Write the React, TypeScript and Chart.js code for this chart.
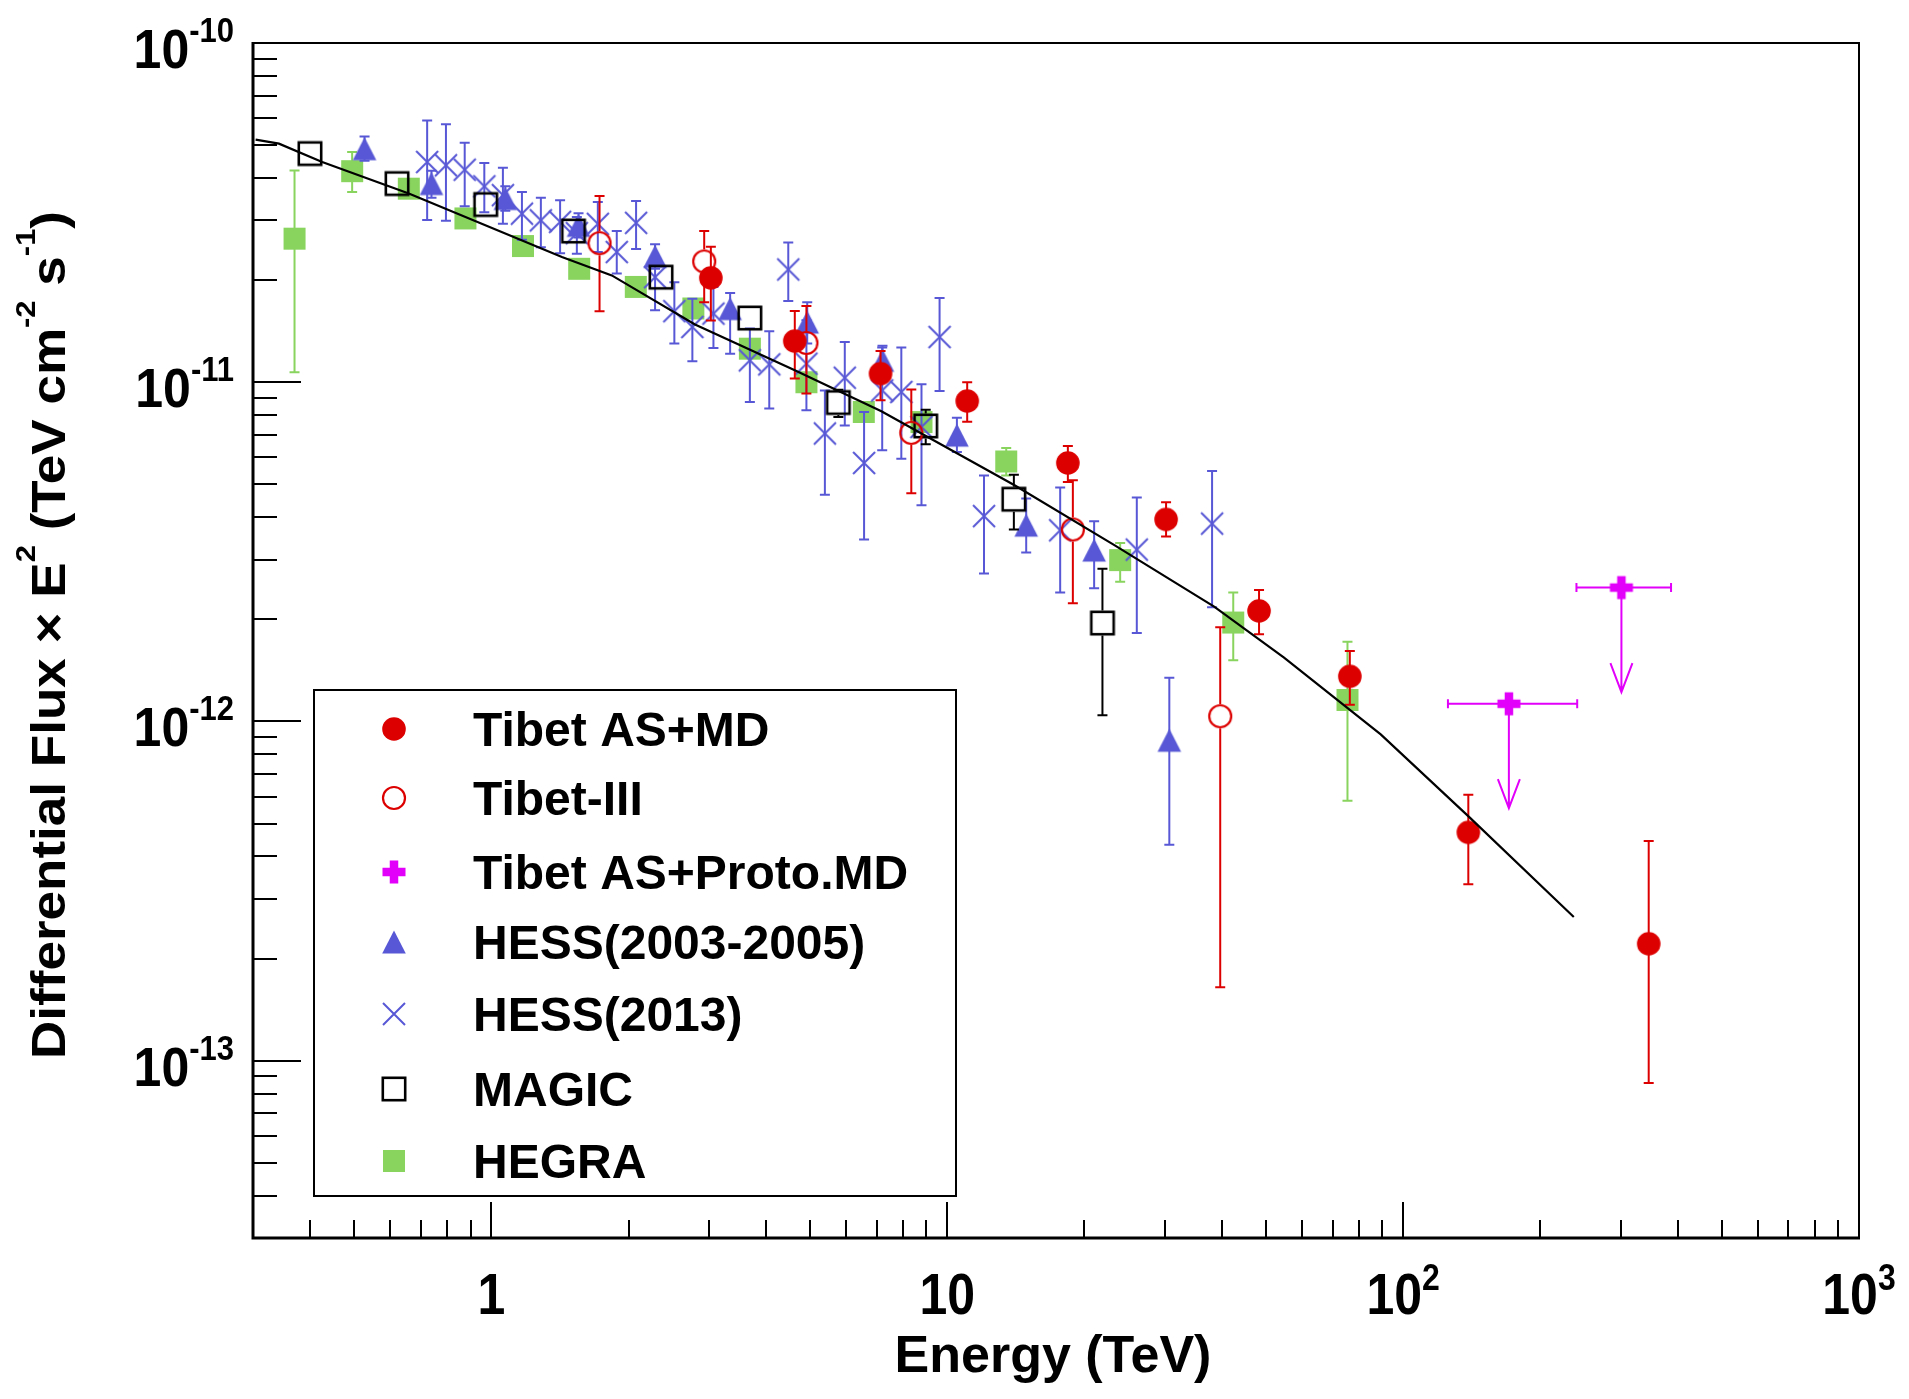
import React, { useEffect, useRef } from 'react';
import { Chart, registerables } from 'chart.js';

Chart.register(...registerables);

const W = 1909;
const H = 1399;
const FONT = '"Liberation Sans", Arial, Helvetica, sans-serif';

const RED = 'rgb(221,0,0)';
const BLUE = 'rgb(88,88,214)';
const GREEN = 'rgb(137,212,95)';
const MAGENTA = 'rgb(226,0,250)';

// ---------------- data ----------------
// Tibet AS+MD (filled red circles)
const tibetMdEnergy = [3.03, 4.63, 7.14, 11.06, 18.39, 30.2, 48.3, 76.4, 139, 345.7];
const tibetMdFlux = [2.03e-11, 1.322e-11, 1.06e-11, 8.8e-12, 5.78e-12, 3.94e-12, 2.117e-12, 1.358e-12, 4.71e-13, 2.21e-13];
const tibetMdLow = [1.52e-11, 1.025e-11, 8.85e-12, 7.65e-12, 5.08e-12, 3.51e-12, 1.807e-12, 1.12e-12, 3.31e-13, 8.59e-14];
const tibetMdHigh = [2.51e-11, 1.622e-11, 1.236e-11, 9.99e-12, 6.49e-12, 4.43e-12, 2.44e-12, 1.613e-12, 6.08e-13, 4.44e-13];

// Tibet-III (open red circles)
const tibet3Energy = [1.727, 2.93, 4.91, 8.34, 18.86, 39.7];
const tibet3Flux = [2.57e-11, 2.27e-11, 1.305e-11, 7.09e-12, 3.68e-12, 1.036e-12];
const tibet3Low = [1.62e-11, 1.72e-11, 9.26e-12, 4.71e-12, 2.23e-12, 1.646e-13];
const tibet3High = [3.54e-11, 2.79e-11, 1.677e-11, 9.51e-12, 5.14e-12, 1.895e-12];

// Tibet AS+Proto.MD (magenta, upper limits)
const protoMdEnergy = [170.6, 301.2];
const protoMdFlux = [1.127e-12, 2.48e-12];
const protoMdEnergyLow = [125.4, 240.0];
const protoMdEnergyHigh = [240.9, 387.0];
const protoMdArrowTo = [5.55e-13, 1.22e-12];

// HESS (2003-2005) (filled blue triangles)
const hess03Energy = [0.527, 0.739, 1.073, 1.553, 2.286, 3.34, 4.93, 7.21, 10.5, 14.9, 21.0, 30.7];
const hess03Flux = [4.88e-11, 3.85e-11, 3.48e-11, 2.9e-11, 2.35e-11, 1.648e-11, 1.504e-11, 1.16e-11, 6.98e-12, 3.79e-12, 3.2e-12, 8.8e-13];
const hess03Low = [4.5e-11, 3.5e-11, 3.2e-11, 2.67e-11, 2.16e-11, 1.214e-11, 1.3e-11, 1.05e-11, 6.23e-12, 3.15e-12, 2.47e-12, 4.33e-13];
const hess03High = [5.3e-11, 4.2e-11, 3.78e-11, 3.15e-11, 2.55e-11, 1.832e-11, 1.72e-11, 1.28e-11, 7.86e-12, 4.54e-12, 3.89e-12, 1.345e-12];

// HESS (2013) (blue x)
const hess13Energy = [0.723, 0.795, 0.874, 0.965, 1.06, 1.167, 1.284, 1.415, 1.54, 1.712, 1.884, 2.077, 2.286, 2.52, 2.76, 3.07, 3.69, 4.07, 4.48, 4.91, 5.39, 5.96, 6.57, 7.2, 7.93, 8.78, 9.62, 12.04, 17.69, 26.05, 38.1];
const hess13Flux = [4.46e-11, 4.36e-11, 4.23e-11, 3.78e-11, 3.56e-11, 3.14e-11, 3.0e-11, 2.97e-11, 2.75e-11, 2.93e-11, 2.42e-11, 2.95e-11, 2.04e-11, 1.62e-11, 1.455e-11, 1.593e-11, 1.16e-11, 1.129e-11, 2.15e-11, 1.134e-11, 7.06e-12, 1.031e-11, 5.78e-12, 9.46e-12, 9.36e-12, 7.38e-12, 1.359e-11, 4.03e-12, 3.66e-12, 3.21e-12, 3.83e-12];
const hess13Low = [3.01e-11, 2.99e-11, 3.3e-11, 3.17e-11, 2.93e-11, 2.63e-11, 2.5e-11, 2.4e-11, 2.39e-11, 2.42e-11, 2.09e-11, 2.47e-11, 1.63e-11, 1.3e-11, 1.152e-11, 1.261e-11, 8.74e-12, 8.36e-12, 1.735e-11, 8.26e-12, 4.66e-12, 7.46e-12, 3.44e-12, 6.3e-12, 5.95e-12, 4.34e-12, 9.42e-12, 2.73e-12, 2.4e-12, 1.823e-12, 2.17e-12];
const hess13High = [5.91e-11, 5.76e-11, 5.08e-11, 4.43e-11, 4.29e-11, 3.64e-11, 3.5e-11, 3.44e-11, 3.07e-11, 3.4e-11, 2.79e-11, 3.42e-11, 2.3e-11, 1.97e-11, 1.763e-11, 1.91e-11, 1.44e-11, 1.413e-11, 2.58e-11, 1.522e-11, 9.46e-12, 1.314e-11, 8.17e-12, 1.265e-11, 1.265e-11, 9.86e-12, 1.771e-11, 5.31e-12, 4.89e-12, 4.57e-12, 5.47e-12];

// MAGIC (open black squares)
const magicEnergy = [0.4, 0.621, 0.972, 1.514, 2.356, 3.69, 5.77, 8.97, 14.0, 21.9];
const magicFlux = [4.72e-11, 3.85e-11, 3.34e-11, 2.79e-11, 2.04e-11, 1.546e-11, 8.71e-12, 7.43e-12, 4.52e-12, 1.95e-12];
const magicLow = [4.5e-11, 3.67e-11, 3.18e-11, 2.66e-11, 1.94e-11, 1.47e-11, 7.9e-12, 6.56e-12, 3.68e-12, 1.042e-12];
const magicHigh = [4.95e-11, 4.04e-11, 3.5e-11, 2.93e-11, 2.14e-11, 1.62e-11, 9.5e-12, 8.3e-12, 5.34e-12, 2.82e-12];

// HEGRA (filled green squares)
const hegraEnergy = [0.37, 0.495, 0.659, 0.877, 1.173, 1.558, 2.074, 2.774, 3.69, 4.91, 6.56, 8.78, 13.47, 23.95, 42.4, 75.5];
const hegraFlux = [2.65e-11, 4.19e-11, 3.72e-11, 3.04e-11, 2.52e-11, 2.16e-11, 1.91e-11, 1.65e-11, 1.256e-11, 1.0e-11, 8.17e-12, 7.63e-12, 5.84e-12, 2.99e-12, 1.957e-12, 1.157e-12];
const hegraLow = [1.07e-11, 3.64e-11, 3.55e-11, 2.9e-11, 2.4e-11, 2.06e-11, 1.82e-11, 1.57e-11, 1.2e-11, 9.5e-12, 7.8e-12, 7.3e-12, 5.31e-12, 2.58e-12, 1.515e-12, 5.84e-13];
const hegraHigh = [4.21e-11, 4.77e-11, 3.9e-11, 3.19e-11, 2.64e-11, 2.26e-11, 2.0e-11, 1.73e-11, 1.32e-11, 1.05e-11, 8.55e-12, 8.0e-12, 6.4e-12, 3.36e-12, 2.4e-12, 1.718e-12];

// Model curve
const modelEnergy = [0.304, 0.342, 0.4255, 0.659, 1.428, 1.837, 2.797, 4.63, 7.17, 14.05, 23.26, 38.5, 54.8, 89.3, 139.5, 236.8];
const modelFlux = [5.19e-11, 5.05e-11, 4.46e-11, 3.6e-11, 2.34e-11, 2.065e-11, 1.48e-11, 1.084e-11, 8.21e-12, 4.97e-12, 3.31e-12, 2.18e-12, 1.541e-12, 9.16e-13, 5.23e-13, 2.65e-13];

// Axes
const xMin = 0.3;
const xMax = 1000;
const yMin = 3e-14;
const yMax = 1e-10;
const xTickValues = [1, 10, 100, 1000];
const xTickBase = ['1', '10', '10', '10'];
const xTickExp = ['', '', '2', '3'];
const yTickValues = [1e-10, 1e-11, 1e-12, 1e-13];
const yTickBase = ['10', '10', '10', '10'];
const yTickExp = ['-10', '-11', '-12', '-13'];
const xTitle = 'Energy (TeV)';
const yTitleParts = ['Differential Flux × E', '2', ' (TeV cm', '-2', ' s', '-1', ')'];
const yTitleSup = [false, true, false, true, false, true, false];

const legendLabels = ['Tibet AS+MD', 'Tibet-III', 'Tibet AS+Proto.MD', 'HESS(2003-2005)', 'HESS(2013)', 'MAGIC', 'HEGRA'];

// ---------------- markers ----------------
function mk(size: number, draw: (c: CanvasRenderingContext2D, m: number) => void) {
  const cv = document.createElement('canvas');
  cv.width = size;
  cv.height = size;
  const c = cv.getContext('2d')!;
  draw(c, size / 2);
  return cv;
}

function buildMarkers() {
  return {
    filledCircle: mk(26, (c, m) => {
      c.fillStyle = RED;
      c.beginPath();
      c.arc(m, m, 11.8, 0, Math.PI * 2);
      c.fill();
    }),
    openCircle: mk(28, (c, m) => {
      c.strokeStyle = RED;
      c.lineWidth = 2.2;
      c.beginPath();
      c.arc(m, m, 11, 0, Math.PI * 2);
      c.stroke();
    }),
    plus: mk(26, (c, m) => {
      c.fillStyle = MAGENTA;
      c.fillRect(m - 4.25, m - 11.5, 8.5, 23);
      c.fillRect(m - 11.5, m - 4.25, 23, 8.5);
    }),
    triangle: mk(26, (c, m) => {
      c.fillStyle = BLUE;
      c.beginPath();
      c.moveTo(m - 11.8, m + 11.5);
      c.lineTo(m + 11.8, m + 11.5);
      c.lineTo(m, m - 11.5);
      c.closePath();
      c.fill();
    }),
    xmark: mk(26, (c, m) => {
      c.strokeStyle = BLUE;
      c.lineWidth = 2;
      c.beginPath();
      c.moveTo(m - 11, m - 11);
      c.lineTo(m + 11, m + 11);
      c.moveTo(m + 11, m - 11);
      c.lineTo(m - 11, m + 11);
      c.stroke();
    }),
    openSquare: mk(28, (c, m) => {
      c.strokeStyle = '#000';
      c.lineWidth = 2.6;
      c.strokeRect(m - 11.2, m - 11.2, 22.4, 22.4);
    }),
    filledSquare: mk(24, (c, m) => {
      c.fillStyle = GREEN;
      c.fillRect(m - 11, m - 11, 22, 22);
    }),
  };
}

type ErrSpec = { e: number[]; f: number[]; lo: number[]; hi: number[]; color: string; gap: number };

const ERR: Record<string, ErrSpec> = {
  'Tibet AS+MD': { e: tibetMdEnergy, f: tibetMdFlux, lo: tibetMdLow, hi: tibetMdHigh, color: RED, gap: 0 },
  'Tibet-III': { e: tibet3Energy, f: tibet3Flux, lo: tibet3Low, hi: tibet3High, color: RED, gap: 12 },
  'HESS(2003-2005)': { e: hess03Energy, f: hess03Flux, lo: hess03Low, hi: hess03High, color: BLUE, gap: 0 },
  'HESS(2013)': { e: hess13Energy, f: hess13Flux, lo: hess13Low, hi: hess13High, color: BLUE, gap: 0 },
  MAGIC: { e: magicEnergy, f: magicFlux, lo: magicLow, hi: magicHigh, color: '#000', gap: 12.5 },
  HEGRA: { e: hegraEnergy, f: hegraFlux, lo: hegraLow, hi: hegraHigh, color: GREEN, gap: 0 },
};

const CAP = 5;

const errPlugin = {
  id: 'errbars',
  beforeDatasetDraw(chart: any, args: any) {
    const ds = chart.data.datasets[args.index];
    const ctx: CanvasRenderingContext2D = chart.ctx;
    const xs = chart.scales.x;
    const ys = chart.scales.y;
    const a = chart.chartArea;
    ctx.save();
    ctx.beginPath();
    ctx.rect(a.left, a.top, a.right - a.left, a.bottom - a.top);
    ctx.clip();
    ctx.lineWidth = 2;
    ctx.lineCap = 'butt';
    if (ds.label === 'Tibet AS+Proto.MD') {
      ctx.strokeStyle = MAGENTA;
      protoMdEnergy.forEach((e, i) => {
        const px = xs.getPixelForValue(e);
        const py = ys.getPixelForValue(protoMdFlux[i]);
        const x1 = xs.getPixelForValue(protoMdEnergyLow[i]);
        const x2 = xs.getPixelForValue(protoMdEnergyHigh[i]);
        const tip = ys.getPixelForValue(protoMdArrowTo[i]);
        ctx.beginPath();
        ctx.moveTo(x1, py);
        ctx.lineTo(x2, py);
        ctx.moveTo(x1, py - 4.5);
        ctx.lineTo(x1, py + 4.5);
        ctx.moveTo(x2, py - 4.5);
        ctx.lineTo(x2, py + 4.5);
        ctx.moveTo(px, py);
        ctx.lineTo(px, tip);
        ctx.moveTo(px - 11, tip - 29);
        ctx.lineTo(px, tip);
        ctx.lineTo(px + 11, tip - 29);
        ctx.stroke();
      });
    } else {
      const s = ERR[ds.label];
      if (s) {
        ctx.strokeStyle = s.color;
        s.e.forEach((e, i) => {
          const px = xs.getPixelForValue(e);
          const py = ys.getPixelForValue(s.f[i]);
          const ph = ys.getPixelForValue(s.hi[i]);
          const pl = ys.getPixelForValue(s.lo[i]);
          ctx.beginPath();
          if (ph < py - s.gap) {
            ctx.moveTo(px, ph);
            ctx.lineTo(px, py - s.gap);
            ctx.moveTo(px - CAP, ph);
            ctx.lineTo(px + CAP, ph);
          }
          if (pl > py + s.gap) {
            ctx.moveTo(px, py + s.gap);
            ctx.lineTo(px, pl);
            ctx.moveTo(px - CAP, pl);
            ctx.lineTo(px + CAP, pl);
          }
          ctx.stroke();
        });
      }
    }
    ctx.restore();
  },
};

function drawPow(
  ctx: CanvasRenderingContext2D,
  base: string,
  exp: string,
  x: number,
  baseline: number,
  align: 'left' | 'center' | 'right',
  bSize: number,
  eSize: number,
  raise: number,
  sy: number
) {
  ctx.textAlign = 'left';
  ctx.textBaseline = 'alphabetic';
  ctx.font = `bold ${bSize}px ${FONT}`;
  const wb = ctx.measureText(base).width;
  ctx.font = `bold ${eSize}px ${FONT}`;
  const we = exp ? ctx.measureText(exp).width : 0;
  const total = wb + we;
  const x0 = align === 'left' ? x : align === 'center' ? x - total / 2 : x - total;
  ctx.save();
  ctx.translate(x0, baseline);
  ctx.scale(1, sy);
  ctx.font = `bold ${bSize}px ${FONT}`;
  ctx.fillText(base, 0, 0);
  ctx.restore();
  if (exp) {
    ctx.save();
    ctx.translate(x0 + wb, baseline - raise);
    ctx.scale(1, sy);
    ctx.font = `bold ${eSize}px ${FONT}`;
    ctx.fillText(exp, 0, 0);
    ctx.restore();
  }
}

function makeDecorPlugin(markers: ReturnType<typeof buildMarkers>) {
  const legendMarkers = [
    markers.filledCircle,
    markers.openCircle,
    markers.plus,
    markers.triangle,
    markers.xmark,
    markers.openSquare,
    markers.filledSquare,
  ];
  return {
    id: 'decor',
    afterDraw(chart: any) {
      const ctx: CanvasRenderingContext2D = chart.ctx;
      const xs = chart.scales.x;
      const ys = chart.scales.y;
      const a = chart.chartArea;
      ctx.save();
      ctx.fillStyle = '#000';
      ctx.strokeStyle = '#000';

      // ticks
      ctx.lineWidth = 2;
      ctx.beginPath();
      for (let n = -14; n <= -10; n++) {
        for (let k = 1; k <= 9; k++) {
          const v = k * Math.pow(10, n);
          if (v < yMin * 0.999 || v > yMax * 1.001) continue;
          const py = Math.round(ys.getPixelForValue(v)) + 0.0;
          const len = k === 1 ? 48 : 24;
          ctx.moveTo(a.left, py);
          ctx.lineTo(a.left + len, py);
        }
      }
      for (let n = -1; n <= 3; n++) {
        for (let k = 1; k <= 9; k++) {
          const v = k * Math.pow(10, n);
          if (v < xMin * 0.999 || v > xMax * 1.001) continue;
          const px = Math.round(xs.getPixelForValue(v));
          const len = k === 1 ? 36 : 18;
          ctx.moveTo(px, a.bottom);
          ctx.lineTo(px, a.bottom - len);
        }
      }
      ctx.stroke();

      // frame
      ctx.lineWidth = 2;
      ctx.beginPath();
      ctx.moveTo(a.left, a.top);
      ctx.lineTo(a.right, a.top);
      ctx.lineTo(a.right, a.bottom);
      ctx.stroke();
      ctx.lineWidth = 3;
      ctx.beginPath();
      ctx.moveTo(a.left, a.top - 1);
      ctx.lineTo(a.left, a.bottom);
      ctx.lineTo(a.right + 1, a.bottom);
      ctx.stroke();

      // tick labels
      yTickValues.forEach((v, i) => {
        const py = ys.getPixelForValue(v);
        drawPow(ctx, yTickBase[i], yTickExp[i], 234, py + 25, 'right', 50, 31, 26, 1.12);
      });
      xTickValues.forEach((v, i) => {
        const px = xs.getPixelForValue(v);
        drawPow(ctx, xTickBase[i], xTickExp[i], px, 1314, 'center', 50, 32, 24, 1.15);
      });

      // x title
      ctx.font = `bold 52px ${FONT}`;
      ctx.textAlign = 'center';
      ctx.textBaseline = 'alphabetic';
      ctx.fillText(xTitle, (a.left + a.right) / 2 - 3, 1372);

      // y title
      const bSize = 48;
      const sSize = 28;
      const widths = yTitleParts.map((t, i) => {
        ctx.font = `bold ${yTitleSup[i] ? sSize : bSize}px ${FONT}`;
        return ctx.measureText(t).width;
      });
      const total = widths.reduce((p, c) => p + c, 0);
      const sx = 848 / total;
      ctx.save();
      ctx.translate(65, 635);
      ctx.rotate(-Math.PI / 2);
      ctx.scale(sx, 1);
      ctx.textAlign = 'left';
      let u = -total / 2;
      yTitleParts.forEach((t, i) => {
        ctx.font = `bold ${yTitleSup[i] ? sSize : bSize}px ${FONT}`;
        ctx.fillText(t, u, yTitleSup[i] ? -30 : 0);
        u += widths[i];
      });
      ctx.restore();

      // legend
      const L = { left: 314, top: 690, right: 956, bottom: 1196 };
      ctx.fillStyle = '#fff';
      ctx.fillRect(L.left, L.top, L.right - L.left, L.bottom - L.top);
      ctx.strokeStyle = '#000';
      ctx.lineWidth = 2;
      ctx.strokeRect(L.left, L.top, L.right - L.left, L.bottom - L.top);
      const rowY = [729, 798, 872, 942, 1014, 1089, 1161];
      ctx.fillStyle = '#000';
      ctx.font = `bold 48px ${FONT}`;
      ctx.textAlign = 'left';
      ctx.textBaseline = 'alphabetic';
      legendLabels.forEach((lab, i) => {
        const m = legendMarkers[i];
        ctx.drawImage(m, 394 - m.width / 2, rowY[i] - m.height / 2);
        ctx.fillText(lab, 473, rowY[i] + 17);
      });
      ctx.restore();
    },
  };
}

export default function App() {
  const ref = useRef<HTMLCanvasElement>(null);

  useEffect(() => {
    const canvas = ref.current;
    if (!canvas) return;
    const markers = buildMarkers();
    const pts = (e: number[], f: number[]) => e.map((x, i) => ({ x, y: f[i] }));
    const chart = new Chart(canvas, {
      type: 'scatter',
      data: {
        datasets: [
          {
            label: 'model',
            data: pts(modelEnergy, modelFlux),
            showLine: true,
            borderColor: '#000',
            borderWidth: 2.2,
            pointRadius: 0,
            tension: 0,
          } as any,
          { label: 'Tibet AS+Proto.MD', data: pts(protoMdEnergy, protoMdFlux), pointStyle: markers.plus, pointRadius: 6 },
          { label: 'Tibet AS+MD', data: pts(tibetMdEnergy, tibetMdFlux), pointStyle: markers.filledCircle, pointRadius: 6 },
          { label: 'Tibet-III', data: pts(tibet3Energy, tibet3Flux), pointStyle: markers.openCircle, pointRadius: 6 },
          { label: 'MAGIC', data: pts(magicEnergy, magicFlux), pointStyle: markers.openSquare, pointRadius: 6 },
          { label: 'HESS(2003-2005)', data: pts(hess03Energy, hess03Flux), pointStyle: markers.triangle, pointRadius: 6 },
          { label: 'HESS(2013)', data: pts(hess13Energy, hess13Flux), pointStyle: markers.xmark, pointRadius: 6 },
          { label: 'HEGRA', data: pts(hegraEnergy, hegraFlux), pointStyle: markers.filledSquare, pointRadius: 6 },
        ],
      },
      options: {
        responsive: false,
        animation: false,
        devicePixelRatio: 1,
        events: [],
        layout: { padding: { left: 0, top: 43, right: 50, bottom: 0 } },
        plugins: { legend: { display: false }, tooltip: { enabled: false } },
        scales: {
          x: {
            type: 'logarithmic',
            min: xMin,
            max: xMax,
            bounds: 'data',
            ticks: { display: false },
            grid: { display: false },
            border: { display: false },
            afterFit: (s: any) => {
              s.height = H - 1238;
            },
          },
          y: {
            type: 'logarithmic',
            min: yMin,
            max: yMax,
            bounds: 'data',
            ticks: { display: false },
            grid: { display: false },
            border: { display: false },
            afterFit: (s: any) => {
              s.width = 253;
            },
          },
        },
      } as any,
      plugins: [errPlugin, makeDecorPlugin(markers)],
    });
    return () => chart.destroy();
  }, []);

  return (
    <div style={{ position: 'absolute', left: 0, top: 0, width: W, height: H, background: '#fff' }}>
      <canvas ref={ref} width={W} height={H} style={{ width: W, height: H, display: 'block' }} />
    </div>
  );
}
